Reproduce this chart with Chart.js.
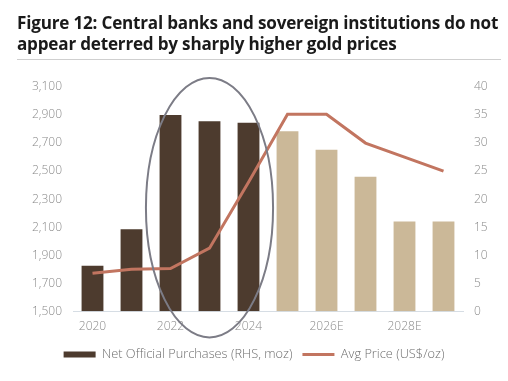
<!DOCTYPE html>
<html>
<head>
<meta charset="utf-8">
<script src="https://cdn.jsdelivr.net/npm/chart.js@4/dist/chart.umd.min.js"></script>
<style>
  html, body { margin: 0; padding: 0; background: #fff; }
  #wrap { position: relative; width: 508px; height: 381px; overflow: hidden; }
  #title {
    position: absolute; left: 17px; top: 12px; width: 484px;
    font-family: "Open Sans", sans-serif; font-weight: 700; font-size: 17.1px;
    line-height: 21px; color: #1a1a1a; letter-spacing: -0.2px;
    padding-bottom: 5px; border-bottom: 1px solid #cfcfcf;
  }
  #c { position: absolute; left: 0; top: 0; }
</style>
</head>
<body>
<div id="wrap">
  <canvas id="c" width="508" height="381"></canvas>
  <div id="title">Figure 12: Central banks and sovereign institutions do not appear deterred by sharply higher gold prices</div>
</div>
<script>
const categories = ['2020', '2021', '2022', '2023', '2024', '2025E', '2026E', '2027E', '2028E', '2029E'];
const netPurchases = [8.1, 14.6, 35.0, 33.9, 33.6, 32.1, 28.8, 24.0, 16.0, 16.0]; // moz (RHS)
const avgPrice = [1770, 1800, 1805, 1950, 2420, 2905, 2905, 2700, 2600, 2500];   // US$/oz (LHS)
const leftTicks = [1500, 1700, 1900, 2100, 2300, 2500, 2700, 2900, 3100];
const rightTicks = [0, 5, 10, 15, 20, 25, 30, 35, 40];
const seriesNames = ['Net Official Purchases (RHS, moz)', 'Avg Price (US$/oz)'];

// highlighted region (ellipse) in scale units
const highlight = { xFrom: 1.37, xTo: 4.63, yTop: 3165, yBottom: 1313 };

const DARK = '#4d3b2e', TAN = '#cbb898', LINE = '#c27560', TICK = '#8a8a8a';
const barColors = categories.map(c => c.endsWith('E') ? TAN : DARK);

const ellipsePlugin = {
  id: 'ellipse',
  afterDatasetsDraw(chart) {
    const x = chart.scales.x, y = chart.scales.y;
    const x1 = x.getPixelForValue(highlight.xFrom), x2 = x.getPixelForValue(highlight.xTo);
    const y1 = y.getPixelForValue(highlight.yTop), y2 = y.getPixelForValue(highlight.yBottom);
    const ctx = chart.ctx;
    ctx.save();
    ctx.beginPath();
    ctx.ellipse((x1 + x2) / 2, (y1 + y2) / 2, (x2 - x1) / 2, (y2 - y1) / 2, 0, 0, Math.PI * 2);
    ctx.strokeStyle = '#7c7c86';
    ctx.lineWidth = 2;
    ctx.stroke();
    ctx.restore();
  }
};

const font = { family: 'Open Sans', size: 12, weight: '300' };

new Chart(document.getElementById('c'), {
  data: {
    labels: categories,
    datasets: [
      {
        type: 'bar', label: seriesNames[0], data: netPurchases, yAxisID: 'y1',
        backgroundColor: barColors, borderWidth: 0, order: 1,
        barPercentage: 0.56, categoryPercentage: 1.0
      },
      {
        type: 'line', label: seriesNames[1], data: avgPrice, yAxisID: 'y',
        borderColor: LINE, backgroundColor: LINE, borderWidth: 3, pointRadius: 0,
        tension: 0, order: 0
      }
    ]
  },
  options: {
    responsive: false, animation: false,
    layout: { padding: { top: 87, left: 0, right: 0, bottom: 10 } },
    plugins: {
      tooltip: { enabled: false },
      legend: {
        position: 'bottom',
        labels: {
          usePointStyle: true, pointStyleWidth: 32, boxHeight: 6,
          color: '#6f6f6f', font: { family: 'Open Sans', size: 12.8, weight: '300' },
          padding: 10,
          sort: (a, b) => a.datasetIndex - b.datasetIndex,
          generateLabels(chart) {
            const items = Chart.defaults.plugins.legend.labels.generateLabels(chart);
            items.forEach(it => {
              if (it.datasetIndex === 0) {
                it.fillStyle = DARK; it.strokeStyle = DARK; it.lineWidth = 0; it.pointStyle = 'rect';
              } else {
                it.fillStyle = LINE; it.strokeStyle = LINE; it.lineWidth = 3; it.pointStyle = 'line';
              }
            });
            return items;
          }
        }
      }
    },
    scales: {
      x: {
        grid: { display: false, drawTicks: false },
        border: { display: true, color: '#d6dde4', width: 1 },
        ticks: {
          color: TICK, font, padding: 8, autoSkip: false, maxRotation: 0,
          callback: (v, i) => (i % 2 === 0 ? categories[i] : '')
        },
        afterFit: s => { s.height = 27; }
      },
      y: {
        position: 'left', min: 1500, max: 3100,
        grid: { display: false, drawTicks: false },
        border: { display: false },
        afterBuildTicks: s => { s.ticks = leftTicks.map(v => ({ value: v })); },
        ticks: { color: TICK, font, padding: 11, callback: v => v.toLocaleString('en-US') },
        afterFit: s => { s.width = 73; }
      },
      y1: {
        position: 'right', min: 0, max: 40,
        grid: { display: false, drawTicks: false },
        border: { display: false },
        afterBuildTicks: s => { s.ticks = rightTicks.map(v => ({ value: v })); },
        ticks: { color: TICK, font, padding: 11 },
        afterFit: s => { s.width = 45; }
      }
    }
  },
  plugins: [ellipsePlugin]
});
</script>
</body>
</html>
